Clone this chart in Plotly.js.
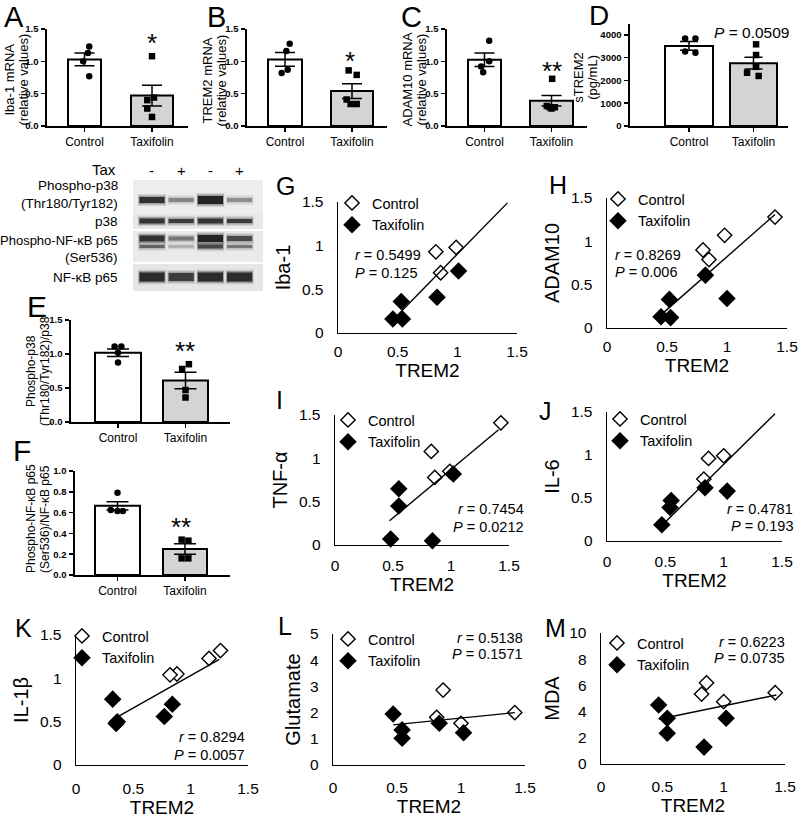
<!DOCTYPE html>
<html><head><meta charset="utf-8">
<script src="https://cdn.plot.ly/plotly-3.0.1.min.js"></script>
<style>html,body{margin:0;padding:0;background:#fff}#chart{width:800px;height:820px}</style>
</head><body><div id="chart"></div>
<script>
// ---------------- DATA ----------------
const groups = ['Control', 'Taxifolin'];

// A: Iba-1 mRNA
const ibaCtrl = [1.23, 1.13, 1.00, 0.77];
const ibaTax = [1.08, 0.44, 0.40, 0.27, 0.14];
const ibaMean = [1.03, 0.47];
const ibaSem = [0.10, 0.16];
// B: TREM2 mRNA
const tremCtrl = [1.27, 1.16, 0.87, 0.82];
const tremTax = [0.86, 0.79, 0.41, 0.34, 0.34];
const tremMean = [1.03, 0.54];
const tremSem = [0.105, 0.115];
// C: ADAM10 mRNA
const adamCtrl = [1.32, 1.00, 0.92, 0.83];
const adamTax = [0.73, 0.31, 0.29, 0.27, 0.29];
const adamMean = [1.025, 0.39];
const adamSem = [0.105, 0.08];
// D: sTREM2 (pg/mL)
const stremCtrl = [3850, 3850, 3270, 3220];
const stremTax = [3590, 3120, 2600, 2340, 2200];
const stremMean = [3520, 2760];
const stremSem = [195, 257];
// E: Phospho-p38 / p38
const pp38Ctrl = [1.11, 1.11, 1.02, 0.875];
const pp38Tax = [0.85, 0.78, 0.47, 0.36];
const pp38Mean = [1.02, 0.61];
const pp38Sem = [0.055, 0.12];
// F: Phospho-NF-kB p65 / NF-kB p65
const pp65Ctrl = [0.79, 0.625, 0.615, 0.615];
const pp65Tax = [0.34, 0.33, 0.16, 0.16];
const pp65Mean = [0.665, 0.25];
const pp65Sem = [0.04, 0.05];

// Correlations with TREM2 (G-M)
const gCtrlX = [0.82, 0.99, 0.86];            const gCtrlY = [0.93, 0.98, 0.69];
const gTaxX = [1.01, 0.83, 0.53, 0.46, 0.54];  const gTaxY = [0.71, 0.41, 0.36, 0.16, 0.16];
const gTrendX = [0.46, 1.42];                  const gTrendY = [0.15, 1.49];

const hCtrlX = [1.40, 0.98, 0.80, 0.85];       const hCtrlY = [1.28, 1.07, 0.90, 0.79];
const hTaxX = [0.82, 1.00, 0.52, 0.45, 0.53];  const hTaxY = [0.61, 0.34, 0.33, 0.13, 0.12];
const hTrendX = [0.44, 1.40];                  const hTrendY = [0.14, 1.31];

const iCtrlX = [1.43, 0.83, 0.99, 0.86];       const iCtrlY = [1.41, 1.08, 0.85, 0.78];
const iTaxX = [0.55, 0.55, 1.02, 0.48, 0.84];  const iTaxY = [0.65, 0.45, 0.82, 0.07, 0.05];
const iTrendX = [0.47, 1.41];                  const iTrendY = [0.28, 1.33];

const jCtrlX = [0.87, 1.00, 0.83];             const jCtrlY = [0.96, 0.99, 0.72];
const jTaxX = [0.55, 0.54, 0.84, 1.03, 0.47];  const jTaxY = [0.47, 0.39, 0.62, 0.58, 0.19];
const jTrendX = [0.44, 1.44];                  const jTrendY = [0.14, 1.48];

const kCtrlX = [1.26, 1.16, 0.88, 0.82];       const kCtrlY = [1.32, 1.23, 1.05, 1.04];
const kTaxX = [0.32, 0.35, 0.36, 0.77, 0.84];  const kTaxY = [0.76, 0.48, 0.50, 0.56, 0.70];
const kTrendX = [0.37, 1.25];                  const kTrendY = [0.56, 1.22];

const lCtrlX = [0.86, 0.81, 1.00, 1.42];       const lCtrlY = [2.86, 1.82, 1.59, 2.00];
const lTaxX = [0.47, 0.54, 0.54, 0.83, 1.02];  const lTaxY = [1.95, 1.34, 1.02, 1.59, 1.23];
const lTrendX = [0.47, 1.42];                  const lTrendY = [1.53, 2.00];

const mCtrlX = [0.86, 0.82, 1.00, 1.42];       const mCtrlY = [6.20, 5.34, 4.76, 5.44];
const mTaxX = [0.47, 0.54, 0.54, 1.02, 0.84];  const mTaxY = [4.50, 3.49, 2.35, 3.49, 1.29];
const mTrendX = [0.47, 1.43];                  const mTrendY = [3.42, 5.27];

const rVals = ['0.5499', '0.8269', '0.7454', '0.4781', '0.8294', '0.5138', '0.6223'];
const pVals = ['0.125', '0.006', '0.0212', '0.193', '0.0057', '0.1571', '0.0735'];
const sigMarks = ['*', '*', '**', '', '**', '**'];
const dPValue = '0.0509';

// ---------------- HELPERS ----------------
const W = 800, H = 820;
const FONT = 'Liberation Sans, Arial, Helvetica, sans-serif';
const dX = (a, b) => [a / W, b / W];
const dY = (t, b) => [1 - b / H, 1 - t / H];
const traces = [];
const layout = {
  width: W, height: H, margin: {l: 0, r: 0, t: 0, b: 0},
  paper_bgcolor: '#fff', plot_bgcolor: 'rgba(0,0,0,0)',
  showlegend: true, font: {family: FONT, color: '#000'},
  annotations: [], shapes: []
};
const ann = (text, x, y, o) => layout.annotations.push(Object.assign({
  text, x: x / W, y: 1 - y / H, xref: 'paper', yref: 'paper', showarrow: false,
  xanchor: 'center', yanchor: 'middle', font: {family: FONT, size: 14.5, color: '#000'}
}, o || {}));
const axName = n => (n === 1 ? '' : String(n));

// ---------------- BAR PANELS ----------------
function barPanel(n, c) {
  const xa = 'x' + axName(n), ya = 'y' + axName(n);
  const d = c.cT - c.cC;
  traces.push({
    type: 'bar', x: [0, 1], y: c.mean, width: [c.wC / d, c.wT / d],
    marker: {color: ['#ffffff', '#d4d4d4'], line: {color: '#000', width: 2}},
    error_y: {type: 'data', array: c.sem, visible: true, color: '#000', thickness: 1.5, width: c.cap},
    xaxis: xa, yaxis: ya, showlegend: false, hoverinfo: 'skip'
  });
  traces.push({
    type: 'scatter', mode: 'markers', x: c.ctrl.map((v, i) => c.jc[i]), y: c.ctrl,
    marker: {symbol: 'circle', size: 6.5, color: '#000'}, cliponaxis: false,
    xaxis: xa, yaxis: ya, showlegend: false, hoverinfo: 'skip'
  });
  traces.push({
    type: 'scatter', mode: 'markers', x: c.tax.map((v, i) => 1 + c.jt[i]), y: c.tax,
    marker: {symbol: 'square', size: 6.5, color: '#000'}, cliponaxis: false,
    xaxis: xa, yaxis: ya, showlegend: false, hoverinfo: 'skip'
  });
  layout['xaxis' + axName(n)] = {
    domain: dX(c.xpx[0], c.xpx[1]), anchor: ya,
    range: [(c.xpx[0] - c.cC) / d, (c.xpx[1] - c.cC) / d],
    tickvals: [0, 1], ticktext: groups, ticks: 'outside', ticklen: 4, tickwidth: 1.5, tickcolor: '#000',
    showline: true, linewidth: 1.6, linecolor: '#000', showgrid: false, zeroline: false,
    tickfont: {family: FONT, size: 12, color: '#000'}, fixedrange: true
  };
  layout['yaxis' + axName(n)] = {
    domain: dY(c.ypx[0], c.ypx[1]), anchor: xa, range: c.yr, tickvals: c.tv, tickformat: c.fmt,
    ticks: 'outside', ticklen: 4, tickwidth: 1.5, tickcolor: '#000', ticklabelstandoff: 1,
    showline: true, linewidth: 1.6, linecolor: '#000', showgrid: false, zeroline: false,
    tickfont: {family: FONT, size: 9.5, color: '#000', weight: 'bold'}, fixedrange: true
  };
  // two-line rotated y-axis title
  c.title.forEach((t, i) => ann(t, c.tx[i], (c.ypx[0] + c.ypx[1]) / 2 + c.tdy,
    {textangle: -90, font: {family: FONT, size: c.ts, color: '#000'}}));
}

barPanel(1, {xpx: [47, 188], ypx: [29, 126], cC: 84.5, cT: 152, wC: 33, wT: 42, yr: [0, 1.5], cap: 10,
  tv: [0, 0.5, 1, 1.5], fmt: '.1f', title: ['Iba-1 mRNA', '(relative values)'], tx: [9, 23], tdy: 2, ts: 13,
  mean: ibaMean, sem: ibaSem, ctrl: ibaCtrl, tax: ibaTax, jc: [0.07, 0.05, -0.02, 0.07], jt: [0, 0.03, -0.07, -0.07, 0]});
barPanel(2, {xpx: [247, 387], ypx: [29, 126], cC: 285, cT: 352, wC: 34, wT: 42, yr: [0, 1.5], cap: 10,
  tv: [0, 0.5, 1, 1.5], fmt: '.1f', title: ['TREM2 mRNA', '(relative values)'], tx: [207, 221], tdy: 3, ts: 13,
  mean: tremMean, sem: tremSem, ctrl: tremCtrl, tax: tremTax, jc: [0.07, 0.02, 0.04, -0.05], jt: [-0.05, 0.07, -0.08, -0.02, 0.07]});
barPanel(3, {xpx: [447, 587], ypx: [29, 126], cC: 484.5, cT: 551.5, wC: 33, wT: 43, yr: [0, 1.5], cap: 10,
  tv: [0, 0.5, 1, 1.5], fmt: '.1f', title: ['ADAM10 mRNA', '(relative values)'], tx: [407, 421], tdy: 2, ts: 13,
  mean: adamMean, sem: adamSem, ctrl: adamCtrl, tax: adamTax, jc: [0.07, 0.07, -0.05, -0.02], jt: [0.01, -0.07, 0.05, 0.0, -0.03]});
barPanel(4, {xpx: [630, 788], ypx: [23.6, 126], cC: 689, cT: 753.5, wC: 48, wT: 47, yr: [0, 4500], cap: 9,
  tv: [0, 1000, 2000, 3000, 4000], fmt: 'd', title: ['sTREM2', '(pg/mL)'], tx: [579, 593], tdy: 3, ts: 13,
  mean: stremMean, sem: stremSem, ctrl: stremCtrl, tax: stremTax, jc: [-0.06, 0.1, -0.06, 0.1], jt: [0.04, 0.04, 0.04, -0.1, 0.08]});
barPanel(5, {xpx: [71, 230], ypx: [320, 422], cC: 118, cT: 185.5, wC: 46, wT: 45, yr: [0, 1.5], cap: 11,
  tv: [0, 0.5, 1, 1.5], fmt: '.1f', title: ['Phospho-p38', '(Thr180/Tyr182)/p38'], tx: [31, 45], tdy: 0, ts: 12,
  mean: pp38Mean, sem: pp38Sem, ctrl: pp38Ctrl, tax: pp38Tax, jc: [-0.05, 0.05, 0, 0], jt: [0.05, -0.05, 0, 0]});
barPanel(6, {xpx: [75, 230], ypx: [471, 575], cC: 117.5, cT: 185, wC: 45, wT: 44, yr: [0, 1.0], cap: 11,
  tv: [0, 0.2, 0.4, 0.6, 0.8, 1.0], fmt: '.1f', title: ['Phospho-NF-κB p65', '(Ser536)/NF-κB p65'], tx: [31, 45], tdy: -4, ts: 12,
  mean: pp65Mean, sem: pp65Sem, ctrl: pp65Ctrl, tax: pp65Tax, jc: [0, -0.1, 0, 0.08], jt: [-0.05, 0.05, -0.05, 0.05]});

// significance marks (glyph centres in px)
const sigPos = [[152, 43], [350, 61], [552, 71], [0, 0], [185, 351], [181, 527]];
sigMarks.forEach((s, i) => { if (s) ann(s, sigPos[i][0], sigPos[i][1], {font: {family: FONT, size: 26, color: '#000'}}); });
ann('<i>P</i> = ' + dPValue, 751, 32, {font: {family: FONT, size: 15.5, color: '#000'}});

// ---------------- SCATTER PANELS ----------------
function scatterPanel(n, c) {
  const xa = 'x' + axName(n), ya = 'y' + axName(n);
  const lg = c.legend;
  traces.push({type: 'scatter', mode: 'markers', name: 'Control', x: c.cx, y: c.cy, legend: lg,
    marker: {symbol: 'diamond', size: 11, color: '#fff', line: {color: '#000', width: 1.4}},
    cliponaxis: false, xaxis: xa, yaxis: ya, hoverinfo: 'skip'});
  traces.push({type: 'scatter', mode: 'markers', name: 'Taxifolin', x: c.tx, y: c.ty, legend: lg,
    marker: {symbol: 'diamond', size: 13.5, color: '#000', line: {color: '#000', width: 0}},
    cliponaxis: false, xaxis: xa, yaxis: ya, hoverinfo: 'skip'});
  traces.push({type: 'scatter', mode: 'lines', x: c.lx, y: c.ly, showlegend: false,
    line: {color: '#000', width: 1.4}, xaxis: xa, yaxis: ya, hoverinfo: 'skip'});
  layout['xaxis' + axName(n)] = {
    domain: dX(c.xpx[0], c.xpx[1]), anchor: ya, range: [0, 1.5], tickvals: [0, 0.5, 1, 1.5],
    ticks: '', showline: true, linewidth: 1.4, linecolor: '#000', showgrid: false, zeroline: false,
    ticklabelstandoff: c.xs, tickfont: {family: FONT, size: 15.5, color: '#000'},
    title: {text: 'TREM2', font: {family: FONT, size: 19, color: '#000'}, standoff: c.xts}, fixedrange: true
  };
  layout['yaxis' + axName(n)] = {
    domain: dY(c.ypx[0], c.ypx[1]), anchor: xa, range: c.yr, tickvals: c.ytv,
    ticks: '', showline: true, linewidth: 1.4, linecolor: '#000', showgrid: false, zeroline: false,
    ticklabelstandoff: 10, tickfont: {family: FONT, size: 15.5, color: '#000'},
    title: {text: c.yt, font: {family: FONT, size: 20, color: '#000'}, standoff: c.yts}, fixedrange: true
  };
  layout[lg] = {x: c.lgx / W, y: 1 - c.lgy / H, xanchor: 'left', yanchor: 'top', bgcolor: 'rgba(0,0,0,0)',
    font: {family: FONT, size: 14.5, color: '#000'}, itemclick: false, itemdoubleclick: false, tracegroupgap: 0};
}
const t15 = [0, 0.5, 1, 1.5];
scatterPanel(7, {xpx: [338, 517], ypx: [202, 333], yr: [0, 1.5], ytv: t15, yt: 'Iba-1', cx: gCtrlX, cy: gCtrlY, tx: gTaxX, ty: gTaxY, lx: gTrendX, ly: gTrendY, legend: 'legend', lgx: 332, lgy: 187, xs: 4, xts: 2, yts: 6});
scatterPanel(8, {xpx: [607, 787], ypx: [198, 328], yr: [0, 1.5], ytv: t15, yt: 'ADAM10', cx: hCtrlX, cy: hCtrlY, tx: hTaxX, ty: hTaxY, lx: hTrendX, ly: hTrendY, legend: 'legend2', lgx: 598, lgy: 183, xs: 4, xts: 2, yts: 6});
scatterPanel(9, {xpx: [335, 509], ypx: [415, 545], yr: [0, 1.5], ytv: t15, yt: 'TNF-α', cx: iCtrlX, cy: iCtrlY, tx: iTaxX, ty: iTaxY, lx: iTrendX, ly: iTrendY, legend: 'legend3', lgx: 328, lgy: 404, xs: 6, xts: 0, yts: 6});
scatterPanel(10, {xpx: [607, 782], ypx: [412, 541], yr: [0, 1.5], ytv: t15, yt: 'IL-6', cx: jCtrlX, cy: jCtrlY, tx: jTaxX, ty: jTaxY, lx: jTrendX, ly: jTrendY, legend: 'legend4', lgx: 600, lgy: 403, xs: 6, xts: 0, yts: 6});
scatterPanel(11, {xpx: [76, 248], ypx: [635, 765], yr: [0, 1.5], ytv: t15, yt: 'IL-1β', cx: kCtrlX, cy: kCtrlY, tx: kTaxX, ty: kTaxY, lx: kTrendX, ly: kTrendY, legend: 'legend5', lgx: 62, lgy: 620, xs: 9, xts: 2, yts: 6});
scatterPanel(12, {xpx: [333, 525], ypx: [634, 765], yr: [0, 5], ytv: [0, 1, 2, 3, 4, 5], yt: 'Glutamate', cx: lCtrlX, cy: lCtrlY, tx: lTaxX, ty: lTaxY, lx: lTrendX, ly: lTrendY, legend: 'legend6', lgx: 328, lgy: 623, xs: 8, xts: 2, yts: 4});
scatterPanel(13, {xpx: [601, 785], ypx: [633, 764], yr: [0, 10], ytv: [0, 2, 4, 6, 8, 10], yt: 'MDA', cx: mCtrlX, cy: mCtrlY, tx: mTaxX, ty: mTaxY, lx: mTrendX, ly: mTrendY, legend: 'legend7', lgx: 597, lgy: 627, xs: 8, xts: 0, yts: 4});

// r / P statistics (left- or right-aligned text positions in px)
const statPos = [
  [353, 255, 273, 'left'], [613, 255, 272, 'left'], [526, 509, 527, 'right'], [795, 509, 526, 'right'],
  [247, 737, 755, 'right'], [525, 638, 654, 'right'], [787, 642, 658, 'right']
];
statPos.forEach((p, i) => {
  ann('<i>r</i> = ' + rVals[i], p[0], p[1], {xanchor: p[3]});
  ann('<i>P</i> = ' + pVals[i], p[0], p[2], {xanchor: p[3]});
});

// ---------------- WESTERN BLOT (illustration) ----------------
layout.xaxis14 = {domain: dX(133, 263), range: [0.35, 4.8], visible: false, fixedrange: true, anchor: 'y14'};
layout.yaxis14 = {domain: dY(165, 291), range: [291, 165], visible: false, fixedrange: true, anchor: 'x14'};
traces.push({type: 'scatter', mode: 'markers', x: [1], y: [170], xaxis: 'x14', yaxis: 'y14', marker: {opacity: 0}, showlegend: false, hoverinfo: 'skip'});
const strips = [[180, 214, '#ededed'], [214, 229, '#e8e8e8'], [231, 262, '#eaeaea'], [264, 291, '#e6e6e6']];
strips.forEach(s => layout.shapes.push({type: 'rect', xref: 'x14', yref: 'y14', x0: 0.35, x1: 4.8, y0: s[0], y1: s[1], fillcolor: s[2], line: {width: 0}, layer: 'below'}));
const bands = [
  {yc: 200, h: [6, 4, 8, 4], op: [0.92, 0.42, 1, 0.38]},
  {yc: 221, h: [5, 4, 5, 4], op: [0.88, 0.82, 0.88, 0.82]},
  {yc: 238.5, h: [6, 4, 7, 5], op: [0.9, 0.5, 1, 0.75]},
  {yc: 246.5, h: [3, 2, 4, 3], op: [0.6, 0.28, 0.75, 0.5]},
  {yc: 277, h: [9, 8, 9, 9], op: [0.95, 0.82, 0.95, 0.95]}
];
bands.forEach(b => b.h.forEach((h, i) => {
  const lane = i + 1;
  [[6, 0.12, 0.48], [3, 0.3, 0.46], [0, 0.85, 0.43]].forEach(l => {
    layout.shapes.push({type: 'rect', xref: 'x14', yref: 'y14', x0: lane - l[2], x1: lane + l[2],
      y0: b.yc - (h + l[0]) / 2, y1: b.yc + (h + l[0]) / 2, fillcolor: '#111', opacity: b.op[i] * l[1], line: {width: 0}});
  });
}));
['-', '+', '-', '+'].forEach((s, i) => layout.annotations.push({text: s, x: i + 1, y: 171, xref: 'x14', yref: 'y14',
  showarrow: false, font: {family: FONT, size: 15, color: '#000'}}));
ann('Tax', 118, 170, {xanchor: 'right', font: {family: FONT, size: 15, color: '#000'}});
[['Phospho-p38', 186, 13.5], ['(Thr180/Tyr182)', 203, 13.5], ['p38', 221, 13.5], ['Phospho-NF-κB p65', 240, 13],
 ['(Ser536)', 257, 13.5], ['NF-κB p65', 277, 13.5]]
  .forEach(l => ann(l[0], 120, l[1], {xanchor: 'right', font: {family: FONT, size: l[2], color: '#000'}}));

// ---------------- PANEL LETTERS ----------------
[['A', 13.5, 16.5, 29], ['B', 216, 16.5, 29], ['C', 411.5, 16.5, 29], ['D', 598.5, 15.5, 28],
 ['E', 36.5, 306.5, 30], ['F', 21.5, 450, 30],
 ['G', 285, 186, 25], ['H', 558, 185, 25], ['I', 279.5, 400, 25], ['J', 545, 411, 25],
 ['K', 23, 627.5, 25], ['L', 284.5, 626, 25], ['M', 555, 627.5, 25]]
  .forEach(l => ann(l[0], l[1], l[2], {font: {family: FONT, size: l[3], color: '#000'}}));

Plotly.newPlot('chart', traces, layout, {staticPlot: true, displayModeBar: false});
</script>
</body></html>
